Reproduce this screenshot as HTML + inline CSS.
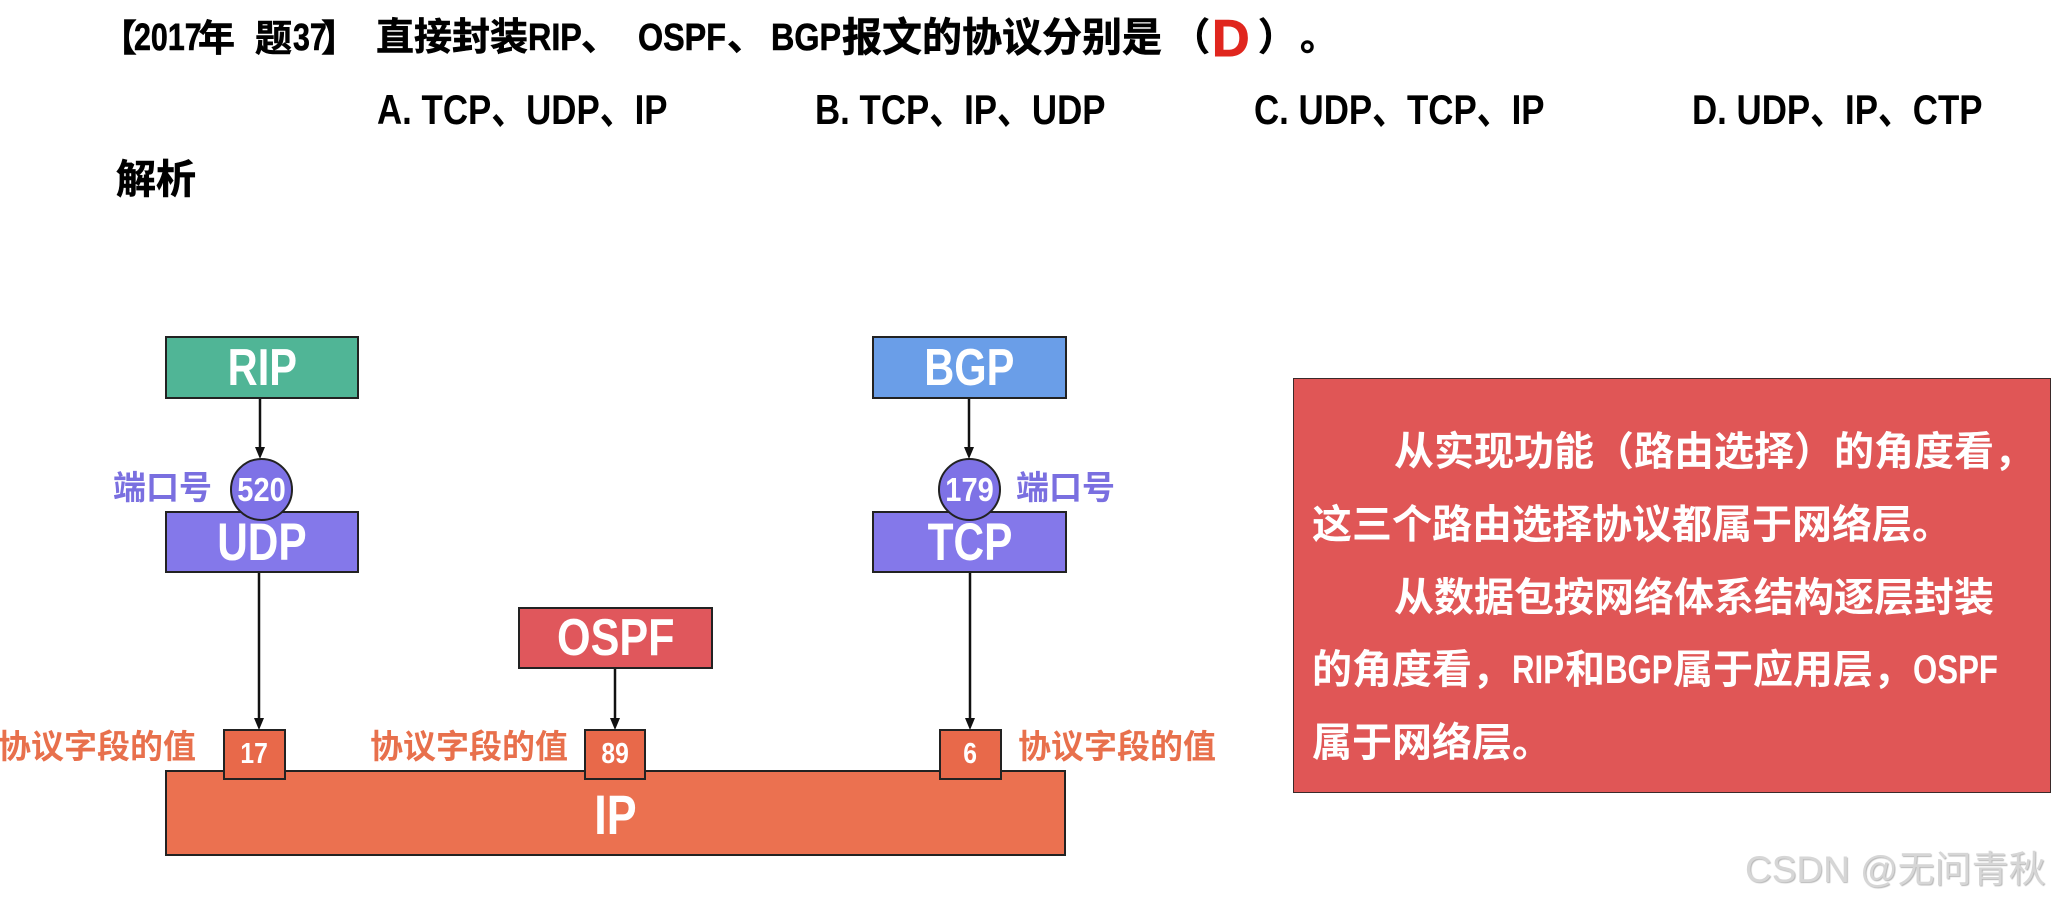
<!DOCTYPE html>
<html>
<head>
<meta charset="utf-8">
<style>
  html,body{margin:0;padding:0;background:#fff;}
  body{width:2055px;height:903px;position:relative;overflow:hidden;
       font-family:"Liberation Sans","Noto Sans CJK SC",sans-serif;}
  .a{position:absolute;white-space:nowrap;line-height:1;}
  .b{font-weight:bold;}
  .tt{-webkit-text-stroke:0.6px #000;}
  .box{position:absolute;box-sizing:border-box;border:2px solid #222;
       display:flex;align-items:center;justify-content:center;
       color:#fff;font-weight:bold;line-height:1;white-space:nowrap;}
  .sx{display:inline-block;transform:scaleX(0.8);}
  .sl{transform-origin:left center;}
  .circ{position:absolute;box-sizing:border-box;border:2px solid #222;border-radius:50%;
        background:#7e72e6;display:flex;align-items:center;justify-content:center;
        color:#fff;font-weight:bold;font-size:33px;line-height:1;}
  .lbl{position:absolute;white-space:nowrap;line-height:1;font-weight:bold;}
  .rt{position:absolute;left:1312px;color:#fff;font-weight:bold;font-size:40px;line-height:1;white-space:nowrap;}
  .lw{display:inline-block;overflow:visible;vertical-align:baseline;}
  .lw > span{display:inline-block;transform:scaleX(0.78);transform-origin:left center;}
</style>
</head>
<body>

<!-- Title -->
<div class="a b tt" style="left:100px;top:20px;font-size:37px;">【</div>
<div class="a b sl tt" style="left:134px;top:19px;font-size:38px;transform:scaleX(0.8);">2017</div>
<div class="a b tt" style="left:198px;top:20px;font-size:37px;">年</div>
<div class="a b tt" style="left:255px;top:20px;font-size:37px;">题</div>
<div class="a b sl tt" style="left:293px;top:19px;font-size:38px;transform:scaleX(0.8);">37</div>
<div class="a b tt" style="left:321px;top:20px;font-size:37px;">】</div>
<div class="a b tt" style="left:376px;top:19px;font-size:38px;">直接封装</div>
<div class="a b sl tt" style="left:528px;top:19px;font-size:38px;transform:scaleX(0.85);">RIP</div>
<div class="a b tt" style="left:581px;top:19px;font-size:38px;">、</div>
<div class="a b sl tt" style="left:638px;top:19px;font-size:38px;transform:scaleX(0.85);">OSPF</div>
<div class="a b tt" style="left:727px;top:19px;font-size:38px;">、</div>
<div class="a b sl tt" style="left:771px;top:19px;font-size:38px;transform:scaleX(0.85);">BGP</div>
<div class="a b tt" style="left:842px;top:18px;font-size:40px;">报文的协议分别是</div>
<div class="a b tt" style="left:1172px;top:19px;font-size:38px;">（</div>
<div class="a b" style="left:1212px;top:13px;font-size:52px;color:#e0261e;-webkit-text-stroke:1px #e0261e;">D</div>
<div class="a b tt" style="left:1258px;top:19px;font-size:38px;">）</div>
<div class="a b tt" style="left:1300px;top:19px;font-size:38px;">。</div>

<!-- Options -->
<div class="a b sl" style="left:377px;top:89px;font-size:42px;transform:scaleX(0.83);">A. TCP、UDP、IP</div>
<div class="a b sl" style="left:815px;top:89px;font-size:42px;transform:scaleX(0.83);">B. TCP、IP、UDP</div>
<div class="a b sl" style="left:1254px;top:89px;font-size:42px;transform:scaleX(0.83);">C. UDP、TCP、IP</div>
<div class="a b sl" style="left:1692px;top:89px;font-size:42px;transform:scaleX(0.83);">D. UDP、IP、CTP</div>

<!-- 解析 -->
<div class="a b tt" style="left:116px;top:160px;font-size:40px;">解析</div>

<!-- Diagram boxes -->
<div class="box" style="left:165px;top:336px;width:194px;height:63px;background:#50b596;font-size:52px;"><span class="sx">RIP</span></div>
<div class="box" style="left:872px;top:336px;width:195px;height:63px;background:#6a9ee8;font-size:52px;"><span class="sx">BGP</span></div>

<div class="box" style="left:165px;top:511px;width:194px;height:62px;background:#8478ea;font-size:53px;"><span class="sx">UDP</span></div>
<div class="box" style="left:872px;top:511px;width:195px;height:62px;background:#8478ea;font-size:53px;"><span class="sx">TCP</span></div>

<div class="circ" style="left:230px;top:458px;width:63px;height:63px;"><span class="sx" style="transform:scaleX(0.88);">520</span></div>
<div class="circ" style="left:938px;top:458px;width:63px;height:63px;"><span class="sx" style="transform:scaleX(0.88);">179</span></div>

<div class="lbl" style="left:113px;top:471px;font-size:33px;color:#7a6fe0;">端口号</div>
<div class="lbl" style="left:1016px;top:471px;font-size:33px;color:#7a6fe0;">端口号</div>

<div class="box" style="left:518px;top:607px;width:195px;height:62px;background:#e0575c;font-size:52px;"><span class="sx" style="transform:scaleX(0.83);">OSPF</span></div>

<!-- IP bar -->
<div class="box" style="left:165px;top:770px;width:901px;height:86px;background:#eb7150;font-size:56px;padding-top:4px;"><span class="sx">IP</span></div>

<!-- small protocol boxes -->
<div class="box" style="left:223px;top:729px;width:63px;height:51px;background:#e8694a;font-size:29px;"><span class="sx" style="transform:scaleX(0.85);">17</span></div>
<div class="box" style="left:584px;top:729px;width:62px;height:51px;background:#e8694a;font-size:29px;"><span class="sx" style="transform:scaleX(0.85);">89</span></div>
<div class="box" style="left:939px;top:729px;width:63px;height:51px;background:#e8694a;font-size:29px;"><span class="sx" style="transform:scaleX(0.85);">6</span></div>

<div class="lbl" style="left:-2px;top:730px;font-size:33px;color:#e8704c;">协议字段的值</div>
<div class="lbl" style="left:370px;top:730px;font-size:33px;color:#e8704c;">协议字段的值</div>
<div class="lbl" style="left:1018px;top:730px;font-size:33px;color:#e8704c;">协议字段的值</div>

<!-- Arrows -->
<svg width="2055" height="903" style="position:absolute;left:0;top:0;pointer-events:none;">
  <g stroke="#111" stroke-width="2.5" fill="none">
    <line x1="260" y1="399" x2="260" y2="448"/>
    <line x1="259" y1="573" x2="259" y2="719"/>
    <line x1="969" y1="399" x2="969" y2="448"/>
    <line x1="970" y1="573" x2="970" y2="719"/>
    <line x1="615" y1="669" x2="615" y2="719"/>
  </g>
  <g fill="#111">
    <polygon points="255,447 265,447 260,459"/>
    <polygon points="254,718 264,718 259,730"/>
    <polygon points="964,447 974,447 969,459"/>
    <polygon points="965,718 975,718 970,730"/>
    <polygon points="610,718 620,718 615,730"/>
  </g>
</svg>

<!-- Red explanation box -->
<div style="position:absolute;left:1293px;top:378px;width:758px;height:415px;box-sizing:border-box;background:#e05656;border:1.5px solid #3a2a2a;"></div>
<div class="rt" style="left:1394px;top:432px;">从实现功能（路由选择）的角度看，</div>
<div class="rt" style="top:505px;">这三个路由选择协议都属于网络层。</div>
<div class="rt" style="left:1394px;top:578px;">从数据包按网络体系结构逐层封装</div>
<div class="rt" style="top:650px;">的角度看，<span class="lw" style="width:53px;"><span>RIP</span></span>和<span class="lw" style="width:68px;"><span>BGP</span></span>属于应用层，<span class="lw" style="width:86px;"><span>OSPF</span></span></div>
<div class="rt" style="top:723px;">属于网络层。</div>

<!-- watermark -->
<div class="a" style="left:1745px;top:851px;font-size:37px;color:#d6d6d6;text-shadow:1px 1px 1px #b8b8b8;">CSDN @无问青秋</div>

</body>
</html>
